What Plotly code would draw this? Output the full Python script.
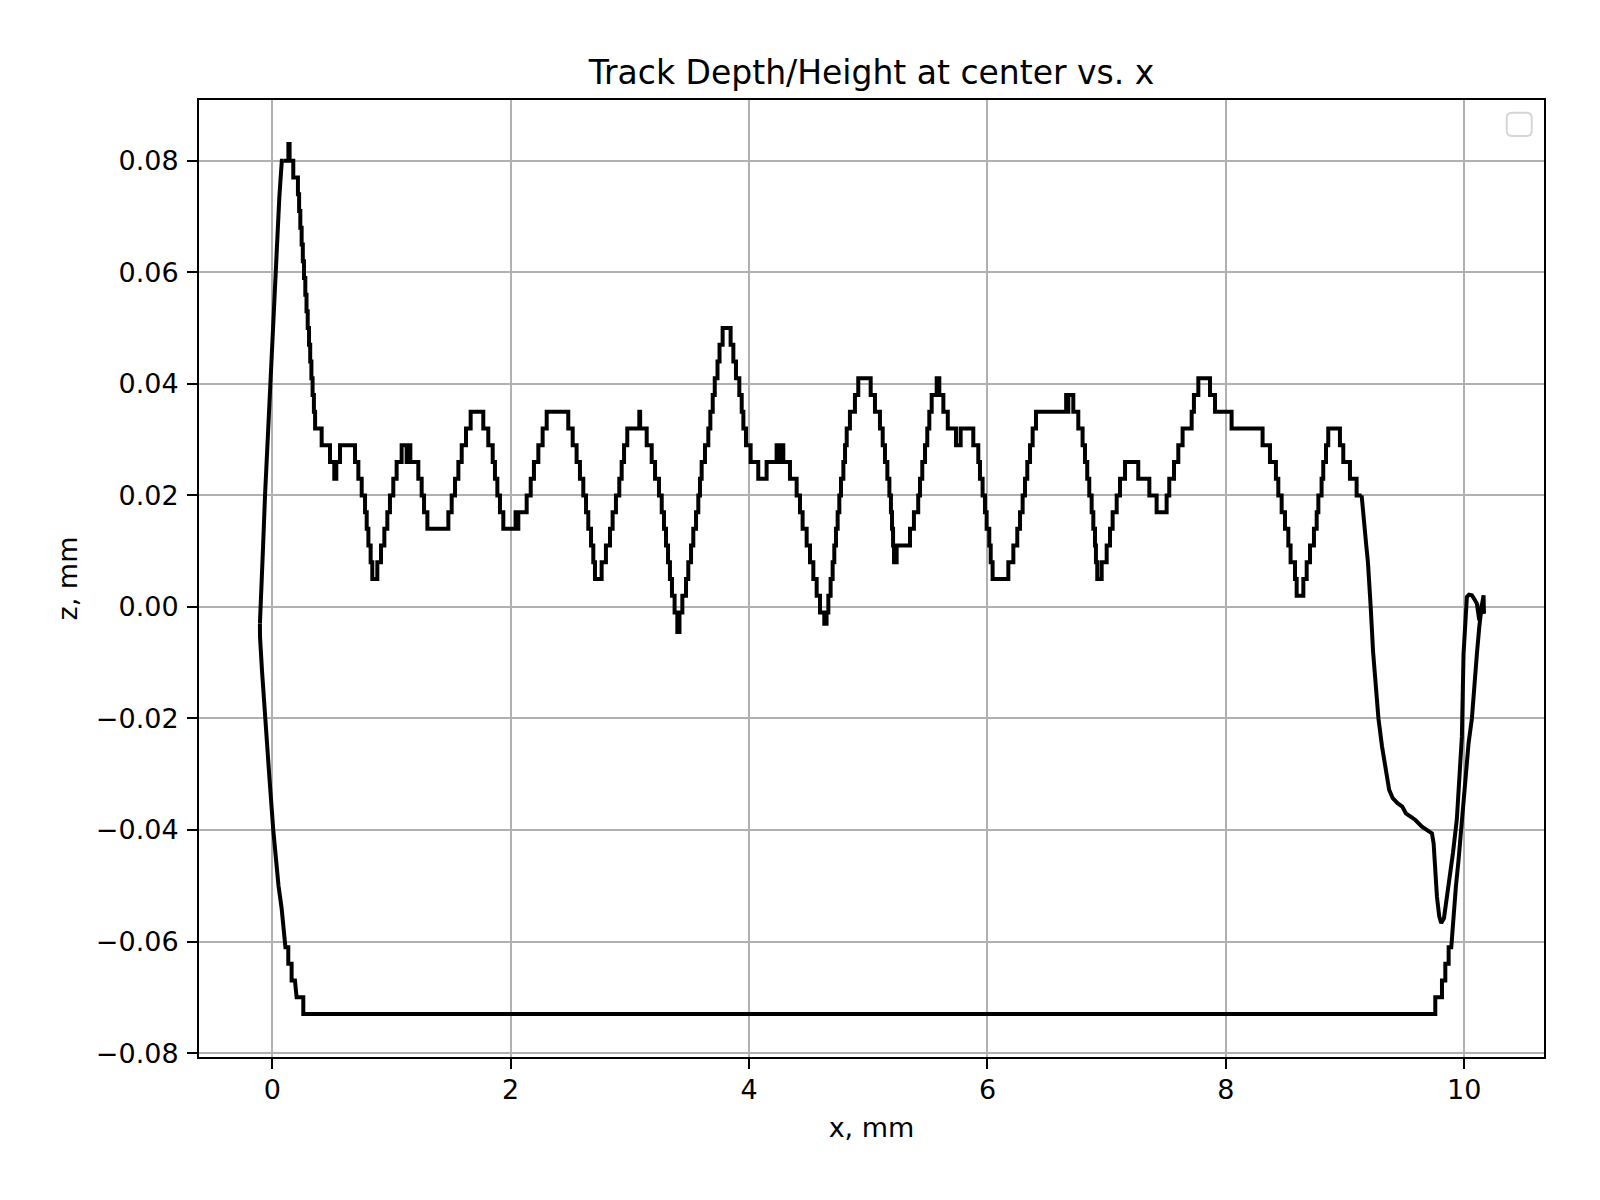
import plotly.graph_objects as go

# ---------------- data ----------------
left_rise_x = [-0.104, -0.097, -0.079, -0.061, -0.040, -0.019, 0.002, 0.023, 0.042, 0.059, 0.070, 0.080, 0.093]
left_rise_z = [-0.003, 0.000, 0.010, 0.020, 0.030, 0.040, 0.050, 0.060, 0.068, 0.0735, 0.077, 0.080, 0.080]

top_step_x = [
    0.093, 0.135, 0.145, 0.176, 0.215, 0.225, 0.235, 0.246, 0.256, 0.266, 0.277, 0.287, 0.297, 0.308,
    0.318, 0.328, 0.338, 0.349, 0.359, 0.414, 0.484, 0.520, 0.537, 0.568, 0.694, 0.722, 0.750, 0.778,
    0.792, 0.806, 0.825, 0.839, 0.881, 0.912, 0.940, 0.965, 0.987, 1.015, 1.043, 1.085, 1.127, 1.138,
    1.158, 1.225, 1.253, 1.273, 1.301, 1.477, 1.505, 1.533, 1.561, 1.589, 1.625, 1.664, 1.770, 1.812,
    1.849, 1.868, 1.888, 1.910, 1.938, 2.041, 2.050, 2.064, 2.134, 2.168, 2.195, 2.232, 2.268, 2.302,
    2.483, 2.520, 2.553, 2.581, 2.609, 2.632, 2.651, 2.674, 2.693, 2.707, 2.763, 2.799, 2.833, 2.855,
    2.883, 2.911, 2.931, 2.951, 2.978, 3.079, 3.086, 3.141, 3.183, 3.211, 3.244, 3.267, 3.286, 3.303,
    3.320, 3.336, 3.353, 3.375, 3.398, 3.416, 3.440, 3.471, 3.490, 3.513, 3.532, 3.555, 3.574, 3.588,
    3.602, 3.630, 3.658, 3.675, 3.695, 3.712, 3.735, 3.752, 3.778, 3.845, 3.868, 3.890, 3.918, 3.938,
    3.952, 3.974, 4.013, 4.077, 4.147, 4.231, 4.245, 4.259, 4.287, 4.343, 4.399, 4.427, 4.449, 4.483,
    4.511, 4.539, 4.567, 4.595, 4.631, 4.650, 4.665, 4.684, 4.701, 4.715, 4.729, 4.743, 4.757, 4.771,
    4.791, 4.805, 4.819, 4.846, 4.888, 4.916, 5.020, 5.056, 5.098, 5.121, 5.140, 5.160, 5.177, 5.190,
    5.199, 5.208, 5.216, 5.238, 5.350, 5.383, 5.419, 5.434, 5.453, 5.476, 5.495, 5.512, 5.532, 5.574,
    5.596, 5.630, 5.667, 5.736, 5.775, 5.881, 5.923, 5.937, 5.959, 5.979, 5.993, 6.015, 6.027, 6.043,
    6.175, 6.217, 6.250, 6.273, 6.295, 6.315, 6.334, 6.357, 6.379, 6.407, 6.660, 6.668, 6.678, 6.720,
    6.762, 6.798, 6.818, 6.837, 6.854, 6.874, 6.888, 6.902, 6.910, 6.921, 6.958, 7.000, 7.028, 7.050,
    7.084, 7.112, 7.154, 7.265, 7.358, 7.419, 7.503, 7.525, 7.565, 7.601, 7.637, 7.713, 7.732, 7.769,
    7.867, 7.909, 8.048, 8.308, 8.370, 8.420, 8.440, 8.468, 8.496, 8.524, 8.543, 8.580, 8.594, 8.650,
    8.678, 8.706, 8.739, 8.762, 8.776, 8.803, 8.817, 8.840, 8.859, 8.957, 8.985, 9.041, 9.097, 9.139,
]
top_step_z = [
    0.080, 0.083, 0.080, 0.077, 0.074, 0.071, 0.068, 0.065, 0.062, 0.059, 0.056, 0.053, 0.050, 0.047,
    0.044, 0.041, 0.038, 0.035, 0.032, 0.029, 0.026, 0.023, 0.026, 0.029, 0.026, 0.023, 0.020, 0.017,
    0.014, 0.011, 0.008, 0.005, 0.008, 0.011, 0.014, 0.017, 0.020, 0.023, 0.026, 0.029, 0.026, 0.029,
    0.026, 0.023, 0.020, 0.017, 0.014, 0.017, 0.020, 0.023, 0.026, 0.029, 0.032, 0.035, 0.032, 0.029,
    0.026, 0.023, 0.020, 0.017, 0.014, 0.017, 0.014, 0.017, 0.020, 0.023, 0.026, 0.029, 0.032, 0.035,
    0.032, 0.029, 0.026, 0.023, 0.020, 0.017, 0.014, 0.011, 0.008, 0.005, 0.008, 0.011, 0.014, 0.017,
    0.020, 0.023, 0.026, 0.029, 0.032, 0.035, 0.032, 0.029, 0.026, 0.023, 0.020, 0.017, 0.014, 0.011,
    0.008, 0.005, 0.002, -0.001, -0.0045, -0.001, 0.002, 0.005, 0.008, 0.011, 0.014, 0.017, 0.020, 0.023,
    0.026, 0.029, 0.032, 0.035, 0.038, 0.041, 0.044, 0.047, 0.050, 0.047, 0.044, 0.041, 0.038, 0.035,
    0.032, 0.029, 0.026, 0.023, 0.026, 0.029, 0.026, 0.029, 0.026, 0.023, 0.020, 0.017, 0.014, 0.011,
    0.008, 0.005, 0.002, -0.001, -0.003, -0.001, 0.002, 0.005, 0.008, 0.011, 0.014, 0.017, 0.020, 0.023,
    0.026, 0.029, 0.032, 0.035, 0.038, 0.041, 0.038, 0.035, 0.032, 0.029, 0.026, 0.023, 0.020, 0.017,
    0.014, 0.011, 0.008, 0.011, 0.014, 0.017, 0.020, 0.023, 0.026, 0.029, 0.032, 0.035, 0.038, 0.041,
    0.038, 0.035, 0.032, 0.029, 0.032, 0.029, 0.026, 0.023, 0.020, 0.017, 0.014, 0.011, 0.008, 0.005,
    0.008, 0.011, 0.014, 0.017, 0.020, 0.023, 0.026, 0.029, 0.032, 0.035, 0.038, 0.035, 0.038, 0.035,
    0.032, 0.029, 0.026, 0.023, 0.020, 0.017, 0.014, 0.011, 0.008, 0.005, 0.008, 0.011, 0.014, 0.017,
    0.020, 0.023, 0.026, 0.023, 0.020, 0.017, 0.020, 0.023, 0.026, 0.029, 0.032, 0.035, 0.038, 0.041,
    0.038, 0.035, 0.032, 0.029, 0.026, 0.023, 0.020, 0.017, 0.014, 0.011, 0.008, 0.005, 0.002, 0.005,
    0.008, 0.011, 0.014, 0.017, 0.020, 0.023, 0.026, 0.029, 0.032, 0.029, 0.026, 0.023, 0.020, 0.020,
]

drop_x = [9.139, 9.150, 9.164, 9.178, 9.192, 9.206, 9.215, 9.235, 9.255, 9.280, 9.310, 9.340, 9.370,
          9.400, 9.440, 9.480, 9.510, 9.550, 9.590, 9.645, 9.687, 9.729, 9.743, 9.757, 9.771, 9.790,
          9.807, 9.830, 9.869, 9.906, 9.938, 9.960, 9.980, 9.994, 10.008, 10.022, 10.040, 10.064,
          10.090, 10.106, 10.126, 10.145, 10.162, 10.165]
drop_z = [0.020, 0.017, 0.014, 0.011, 0.008, 0.004, 0.000, -0.008, -0.014, -0.020, -0.025, -0.0295,
          -0.0328, -0.0343, -0.0352, -0.0358, -0.0370, -0.0376, -0.0382, -0.0394, -0.0400, -0.0406,
          -0.0424, -0.0472, -0.0520, -0.0555, -0.0567, -0.0558, -0.0501, -0.0440, -0.0380, -0.0310,
          -0.0233, -0.0084, -0.0020, 0.0018, 0.0022, 0.0021, 0.0012, 0.0006, -0.0024, 0.0005, 0.0021,
          -0.0012]

bottom_x = [-0.104, -0.103, -0.087, -0.062, -0.042, -0.025, 0.008, 0.031, 0.052, 0.078, 0.098, 0.110,
            0.134, 0.134, 0.162, 0.162, 0.190, 0.204, 0.260, 0.260, 9.757, 9.757, 9.813, 9.813, 9.841,
            9.841, 9.869, 9.869, 9.891, 9.911, 9.930, 9.952, 9.975, 9.994, 10.022, 10.036, 10.064,
            10.078, 10.106, 10.126, 10.148, 10.165]
bottom_z = [-0.003, -0.0054, -0.0113, -0.020, -0.0257, -0.0304, -0.040, -0.0454, -0.0500, -0.0540,
            -0.0575, -0.061, -0.061, -0.064, -0.064, -0.067, -0.067, -0.070, -0.070, -0.073, -0.073,
            -0.070, -0.070, -0.067, -0.067, -0.064, -0.064, -0.061, -0.061, -0.0549, -0.0501, -0.0454,
            -0.040, -0.0352, -0.0293, -0.0245, -0.020, -0.0155, -0.0084, -0.0036, 0.0006, -0.0012]

x_ticks = [0, 2, 4, 6, 8, 10]
y_ticks = [-0.08, -0.06, -0.04, -0.02, 0.00, 0.02, 0.04, 0.06, 0.08]

# ---------------- figure ----------------
LINE = dict(color="#000000", width=4)
fig = go.Figure()
fig.add_trace(go.Scatter(x=left_rise_x, y=left_rise_z, mode="lines", line=LINE, showlegend=False))
fig.add_trace(go.Scatter(x=top_step_x, y=top_step_z, mode="lines", line=dict(LINE, shape="hv"), showlegend=False))
fig.add_trace(go.Scatter(x=drop_x, y=drop_z, mode="lines", line=LINE, showlegend=False))
fig.add_trace(go.Scatter(x=bottom_x, y=bottom_z, mode="lines", line=LINE, showlegend=False))

FONT = "DejaVu Sans"
axis_common = dict(
    showgrid=True, gridcolor="#b0b0b0", gridwidth=2,
    showline=True, linecolor="#000000", linewidth=2, mirror=True,
    ticks="outside", ticklen=10, tickwidth=2, tickcolor="#000000",
    tickfont=dict(family=FONT, size=27, color="#000000"),
    zeroline=False,
)

fig.update_layout(
    width=1600, height=1200,
    margin=dict(l=199, r=56, t=100, b=143),
    paper_bgcolor="white", plot_bgcolor="white",
    font=dict(family=FONT, color="#000000"),
    title=dict(text="Track Depth/Height at center vs. x", x=0.5, xref="paper",
               y=1 - 72 / 1200, yanchor="middle", font=dict(family=FONT, size=33, color="#000000")),
    xaxis=dict(axis_common, range=[-0.615, 10.669], tickvals=x_ticks, ticklabelstandoff=-2,
               title=dict(text="x, mm", font=dict(family=FONT, size=27), standoff=14)),
    yaxis=dict(axis_common, range=[-0.0807, 0.0909], tickvals=y_ticks, tickformat=".2f",
               ticklabelstandoff=3,
               title=dict(text="z, mm", font=dict(family=FONT, size=27), standoff=10)),
    showlegend=False,
)

# empty legend frame (top-right)
x0, x1, y0, y1 = 0.9723, 0.9909, 0.9624, 0.9867
rx, ry = 0.004, 0.0055
path = (f"M {x0+rx},{y0} L {x1-rx},{y0} Q {x1},{y0} {x1},{y0+ry} L {x1},{y1-ry} "
        f"Q {x1},{y1} {x1-rx},{y1} L {x0+rx},{y1} Q {x0},{y1} {x0},{y1-ry} L {x0},{y0+ry} "
        f"Q {x0},{y0} {x0+rx},{y0} Z")
fig.add_shape(type="path", path=path, xref="paper", yref="paper",
              line=dict(color="#d6d6d6", width=2), fillcolor="rgba(255,255,255,0.8)")

fig.write_html("out.html", config={"displayModeBar": False},
               post_script="document.body.style.margin='0';")
